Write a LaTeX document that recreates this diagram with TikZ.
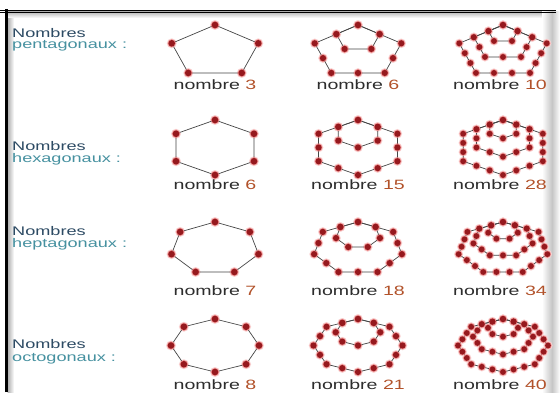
\documentclass[tikz,border=0pt]{standalone}
\usepackage{fontspec}
\usepackage{graphicx}
\setmainfont{Liberation Sans}
\newfontfamily\widesans[FakeStretch=1.45]{Liberation Sans}
\definecolor{dotc}{RGB}{150,25,30}
\definecolor{glowc}{RGB}{236,140,140}
\definecolor{haloc}{RGB}{250,212,212}
\definecolor{edgec}{RGB}{70,70,70}
\definecolor{numc}{RGB}{178,82,42}
\definecolor{titlec}{RGB}{45,75,100}
\definecolor{subc}{RGB}{70,145,160}
\definecolor{labc}{RGB}{45,45,45}
\tikzset{
  edge/.style={draw=edgec,line width=0.7pt},
  halo/.style={fill=haloc},
  glow/.style={fill=glowc},
  dot/.style={fill=dotc},
  lab/.style={anchor=base,inner sep=0pt,text=labc,font=\widesans\fontsize{13.5}{14}\selectfont},
  lefttxt/.style={anchor=base west,inner sep=0pt,font=\widesans\fontsize{12.5}{13}\selectfont},
}
\newcommand\polydots[2]{%
  \foreach \s in {1,...,\nn}{%
    \pgfmathsetmacro\r{\s/\nn}%
    \pgfmathtruncatemacro\sm{\s-1}%
    \foreach \j in {0,...,\km}{%
      \foreach \i in {0,...,\sm}{%
        \pgfmathsetmacro\ta{90+\j*360/\kk}%
        \pgfmathsetmacro\tb{90+(\j+1)*360/\kk}%
        \pgfmathsetmacro\u{\i/\s}%
        \pgfmathsetmacro\px{\r*((1-\u)*cos(\ta)+\u*cos(\tb))}%
        \pgfmathsetmacro\py{\r*((1-\u)*sin(\ta)+\u*sin(\tb))-\r}%
        \fill[#1] (\px,\py) circle[radius=#2pt];
      }}}}
\newcommand\polyfig[7]{%
  \begin{scope}[shift={(#1,#2)},x=#5pt,y=#6pt]
    \def\kk{#3}%
    \pgfmathtruncatemacro\nn{#4-1}%
    \pgfmathtruncatemacro\km{#3-1}%
    \pgfmathsetmacro\rg{#7+0.8}%
    \pgfmathsetmacro\rh{#7+1.7}%
    \polydots{halo}{\rh}
    \foreach \s in {1,...,\nn}{%
      \pgfmathsetmacro\r{\s/\nn}%
      \draw[edge] (0,0) \foreach \j in {1,...,\km}{ -- ({\r*cos(90+\j*360/\kk)},{\r*sin(90+\j*360/\kk)-\r}) } -- cycle;
    }
    \polydots{glow}{\rg}
    \polydots{dot}{#7}
  \end{scope}}
\begin{document}
\begin{tikzpicture}[x=1pt,y=1pt]
\useasboundingbox (0,0) rectangle (560,392);
\fill[white] (0,0) rectangle (560,392);
% frame
\shade[left color=gray!65,right color=white] (7.5,0) rectangle (14,380);
\shade[top color=gray!55,bottom color=white] (7.5,380) rectangle (548,374);
\shade[left color=white,right color=gray!45] (542,0) rectangle (552,380);
\shade[left color=gray!45,right color=white] (552,0) rectangle (560,380);
\draw[black,line width=1.2pt] (0,381.5) -- (556,381.5);
\draw[black,line width=0.6pt] (0,379.2) -- (556,379.2);
\draw[black,line width=2.6pt] (6.3,0) -- (6.3,382.5);
% left titles
\node[lefttxt,text=titlec] (t1) at (12,355) {Nombres};
\node[lefttxt,text=subc] (s1) at (12,344) {pentagonaux :};
\node[lefttxt,text=titlec] (t2) at (12,242) {Nombres};
\node[lefttxt,text=subc] (s2) at (12,229.5) {hexagonaux :};
\node[lefttxt,text=titlec] (t3) at (12,156.5) {Nombres};
\node[lefttxt,text=subc] (s3) at (12,145) {heptagonaux :};
\node[lefttxt,text=titlec] (t4) at (12,44) {Nombres};
\node[lefttxt,text=subc] (s4) at (12,30.5) {octogonaux :};
% pentagonal
\polyfig{215}{367}{5}{2}{45.5}{26.5}{3.3}
\polyfig{358}{367}{5}{3}{45.5}{26.5}{3.1}
\polyfig{503}{367}{5}{4}{46}{26.5}{2.9}
% hexagonal
\polyfig{215}{272}{6}{2}{45}{27.5}{3.3}
\polyfig{358}{272}{6}{3}{45.5}{27.5}{3.1}
\polyfig{503}{272}{6}{4}{46}{27.5}{2.9}
% heptagonal
\polyfig{215}{170}{7}{2}{44.6}{26.3}{3.3}
\polyfig{358}{170}{7}{3}{45}{26.3}{3.1}
\polyfig{503}{170}{7}{4}{45.5}{26.3}{2.9}
% octagonal
\polyfig{215}{73}{8}{2}{44}{26.5}{3.3}
\polyfig{358}{73}{8}{3}{44.5}{26.5}{3.1}
\polyfig{503}{73}{8}{4}{45}{26.5}{2.9}
% labels
\node[lab] (l11) at (215,303) {nombre \textcolor{numc}{3}};
\node[lab] (l12) at (358,303) {nombre \textcolor{numc}{6}};
\node[lab] (l13) at (500,303) {nombre \textcolor{numc}{10}};
\node[lab] (l21) at (215,203) {nombre \textcolor{numc}{6}};
\node[lab] (l22) at (358,203) {nombre \textcolor{numc}{15}};
\node[lab] (l23) at (500,203) {nombre \textcolor{numc}{28}};
\node[lab] (l31) at (215,97) {nombre \textcolor{numc}{7}};
\node[lab] (l32) at (358,97) {nombre \textcolor{numc}{18}};
\node[lab] (l33) at (500,97) {nombre \textcolor{numc}{34}};
\node[lab] (l41) at (215,3) {nombre \textcolor{numc}{8}};
\node[lab] (l42) at (358,3) {nombre \textcolor{numc}{21}};
\node[lab] (l43) at (500,3) {nombre \textcolor{numc}{40}};
\end{tikzpicture}
\end{document}
